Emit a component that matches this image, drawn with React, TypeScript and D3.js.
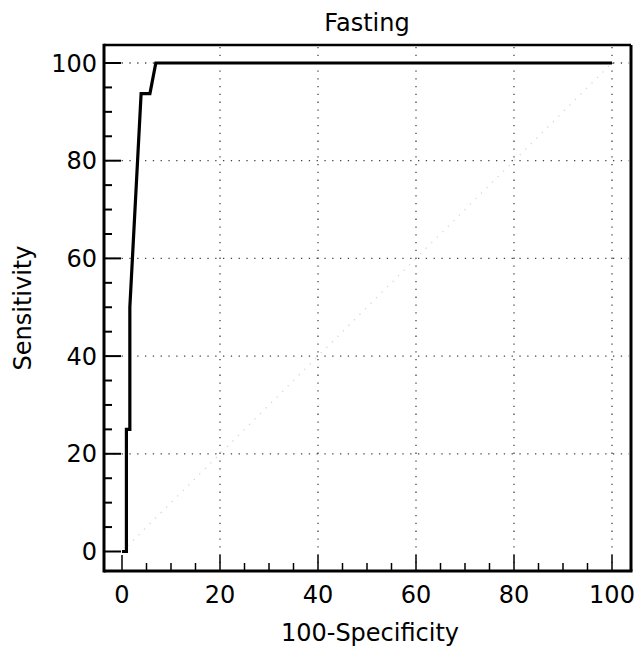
import React from "react";
import * as d3 from "d3";

// ROC curve points (100-Specificity, Sensitivity)
const rocX = [0, 0.9, 0.9, 1.6, 1.6, 3.9, 5.7, 6.9, 100];
const rocY = [0, 0, 25, 25, 50, 93.75, 93.75, 100, 100];

const xTickValues = [0, 20, 40, 60, 80, 100];
const yTickValues = [0, 20, 40, 60, 80, 100];
const gridValues = [20, 40, 60, 80, 100];
const minorStep = 5;

const title = "Fasting";
const xLabel = "100-Specificity";
const yLabel = "Sensitivity";

const W = 638;
const H = 652;
const FONT = "'DejaVu Sans', 'Liberation Sans', Arial, sans-serif";

export default function App() {
  const x = d3.scaleLinear().domain([0, 100]).range([122, 612]);
  const y = d3.scaleLinear().domain([0, 100]).range([551.5, 63]);
  const frame = { left: 104, right: 631, top: 45, bottom: 571 };

  const pts: [number, number][] = rocX.map((v, i) => [v, rocY[i]]);
  const line = d3
    .line<[number, number]>()
    .x((d) => x(d[0]))
    .y((d) => y(d[1]));

  const minor = d3.range(0, 100 + 0.001, minorStep);

  return (
    <svg
      width={W}
      height={H}
      style={{ position: "absolute", left: 0, top: 0, background: "#fff" }}
      fontFamily={FONT}
    >
      <rect x={0} y={0} width={W} height={H} fill="#fff" />
      {/* grid */}
      {gridValues.map((g) => (
        <line
          key={"gv" + g}
          x1={x(g)}
          x2={x(g)}
          y1={frame.top + 2}
          y2={frame.bottom - 2}
          stroke="#444"
          strokeWidth={1.3}
          strokeDasharray="1.3 6.5"
        />
      ))}
      {gridValues.map((g) => (
        <line
          key={"gh" + g}
          x1={frame.left + 2}
          x2={frame.right - 2}
          y1={y(g)}
          y2={y(g)}
          stroke="#444"
          strokeWidth={1.3}
          strokeDasharray="1.3 6.5"
        />
      ))}
      {/* diagonal reference */}
      <line
        x1={x(0)}
        y1={y(0)}
        x2={x(100)}
        y2={y(100)}
        stroke="#888"
        strokeWidth={1.2}
        strokeDasharray="1.3 6.5"
        opacity={0.35}
      />
      {/* ticks */}
      {minor.map((v) => {
        const major = v % 20 === 0;
        return (
          <g key={"t" + v}>
            <line
              x1={frame.left}
              x2={frame.left + (major ? 17 : 8)}
              y1={y(v)}
              y2={y(v)}
              stroke="#000"
              strokeWidth={2}
            />
            <line
              x1={x(v)}
              x2={x(v)}
              y1={frame.bottom}
              y2={frame.bottom - (major ? 16 : 8)}
              stroke="#000"
              strokeWidth={1.5}
            />
          </g>
        );
      })}
      {/* frame */}
      <line x1={frame.left} x2={frame.right} y1={frame.top} y2={frame.top} stroke="#000" strokeWidth={2.5} />
      <line x1={frame.right} x2={frame.right} y1={frame.top} y2={frame.bottom} stroke="#000" strokeWidth={3} />
      <line x1={frame.left} x2={frame.right + 1.5} y1={frame.bottom} y2={frame.bottom} stroke="#000" strokeWidth={3} />
      <line x1={frame.left} x2={frame.left} y1={frame.top - 1.2} y2={frame.bottom + 1.5} stroke="#000" strokeWidth={3} />
      {/* ROC curve */}
      <path d={line(pts) || ""} fill="none" stroke="#000" strokeWidth={3.2} strokeLinejoin="miter" />
      {/* tick labels */}
      {yTickValues.map((v) => (
        <text key={"yl" + v} x={97} y={y(v)} dy="0.36em" textAnchor="end" fontSize={24} fill="#000">
          {String(v)}
        </text>
      ))}
      {xTickValues.map((v) => (
        <text key={"xl" + v} x={x(v)} y={603} textAnchor="middle" fontSize={24} fill="#000">
          {String(v)}
        </text>
      ))}
      <text x={367} y={31} textAnchor="middle" fontSize={24} fill="#000">
        {title}
      </text>
      <text x={370} y={641} textAnchor="middle" fontSize={24} fill="#000">
        {xLabel}
      </text>
      <text
        transform={`translate(31,308) rotate(-90)`}
        textAnchor="middle"
        fontSize={24}
        fill="#000"
      >
        {yLabel}
      </text>
    </svg>
  );
}
